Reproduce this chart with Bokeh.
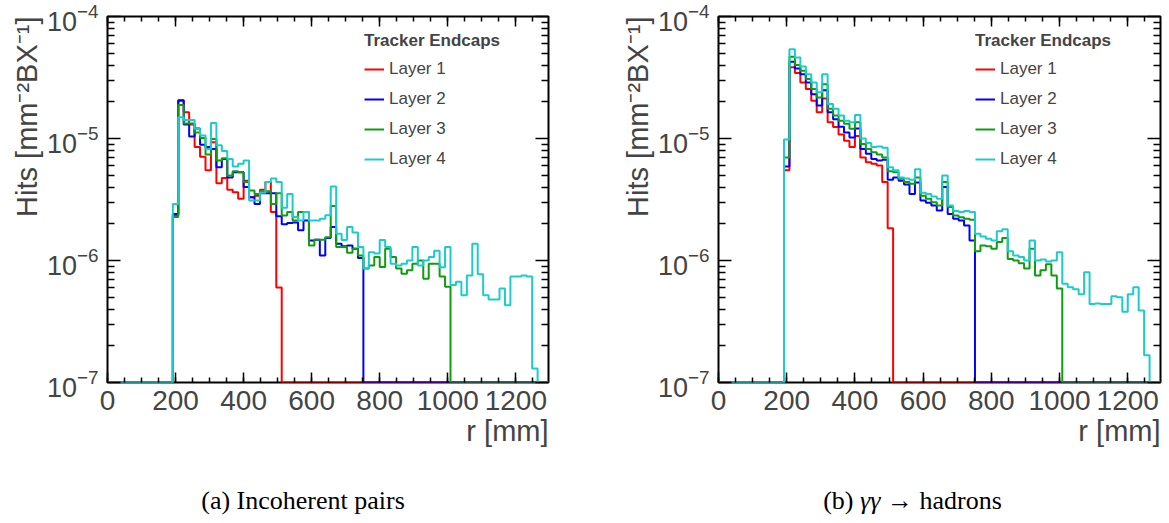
import numpy as np
from bokeh.plotting import figure
from bokeh.models import (Range1d, LinearAxis, LogAxis, FixedTicker, CustomJSTickFormatter,
                          Legend, LegendItem, Div, Spacer, AllLabels, Title)
from bokeh.layouts import row, column
from bokeh.embed import file_html
from bokeh.resources import INLINE

# ---------------- data ----------------
BIN_WIDTH = 16          # mm
N_BINS = 81             # 0 .. 1296 mm
FIRST_BIN = 12          # first non-empty bin (192 mm)
R_MAX = 1296
Y_MIN, Y_MAX = 1e-7, 1e-4

x_ticks = [0, 200, 400, 600, 800, 1000, 1200]
y_ticks = [1e-7, 1e-6, 1e-5, 1e-4]

layer_names = ["Layer 1", "Layer 2", "Layer 3", "Layer 4"]
layer_colors = ["#ff0000", "#0000ff", "#0f9d0f", "#1ccccc"]

# (a) Incoherent pairs -- hits per bin, starting at FIRST_BIN
a_layer1 = [2.34e-6, 2.07e-5, 1.64e-5, 1.3e-5, 8.5e-6, 7.1e-6, 5.5e-6, 9.3e-6, 4.3e-6, 4.75e-6,
            3.8e-6, 3.63e-6, 3.2e-6, 4.5e-6, 3.3e-6, 3.4e-6, 3.8e-6, 4.4e-6, 2.5e-6, 6.0e-7]
a_layer2 = [2.4e-6, 2.04e-5, 1.3e-5, 1.04e-5, 1.21e-5, 8.9e-6, 8.5e-6, 8.2e-6, 5.8e-6, 6.8e-6,
            4.8e-6, 5.3e-6, 5.3e-6, 4.0e-6, 3.3e-6, 2.9e-6, 3.56e-6, 3.56e-6, 3.56e-6, 2.3e-6,
            1.98e-6, 2.03e-6, 2.05e-6, 1.77e-6, 2.13e-6, 1.46e-6, 1.48e-6, 1.1e-6, 1.53e-6, 1.88e-6,
            1.37e-6, 1.31e-6, 1.33e-6, 1.25e-6, 1.05e-6]
a_layer3 = [2.27e-6, 1.88e-5, 1.33e-5, 1.33e-5, 1.12e-5, 1.01e-5, 7.4e-6, 9.9e-6, 6.6e-6, 6.9e-6,
            4.97e-6, 5.4e-6, 5.3e-6, 4.4e-6, 3.75e-6, 3.5e-6, 3.7e-6, 3.7e-6, 2.9e-6, 3.56e-6,
            2.34e-6, 2.5e-6, 2.13e-6, 2.5e-6, 2.5e-6, 1.33e-6, 1.48e-6, 1.48e-6, 1.55e-6, 2.8e-6,
            1.29e-6, 1.29e-6, 1.16e-6, 1.25e-6, 1.1e-6, 8.6e-7, 9.1e-7, 1.07e-6, 8.85e-7, 1.25e-6,
            1.07e-6, 8.6e-7, 7.8e-7, 8.3e-7, 9.4e-7, 1.0e-6, 7.1e-7, 9.4e-7, 9.4e-7, 7.4e-7,
            6.1e-7]
a_layer4 = [2.9e-6, 1.49e-5, 1.42e-5, 1.42e-5, 1.2e-5, 1.06e-5, 8.2e-6, 1.34e-5, 8.8e-6, 7.9e-6,
            6.8e-6, 5.9e-6, 6.2e-6, 6.6e-6, 3.1e-6, 3.1e-6, 3.6e-6, 4.4e-6, 4.7e-6, 4.4e-6,
            2.7e-6, 3.5e-6, 2.27e-6, 2.13e-6, 2.5e-6, 2.13e-6, 2.13e-6, 2.2e-6, 2.35e-6, 4.05e-6,
            1.66e-6, 1.47e-6, 1.88e-6, 1.7e-6, 1.29e-6, 8.6e-7, 1.17e-6, 1.14e-6, 1.47e-6, 1.29e-6,
            9.4e-7, 9.1e-7, 9.4e-7, 1.0e-6, 1.29e-6, 9.1e-7, 1.0e-6, 1.07e-6, 1.2e-6, 8.8e-7,
            1.29e-6, 6.3e-7, 6.7e-7, 5.2e-7, 7.55e-7, 1.37e-6, 7.7e-7, 5.2e-7, 4.8e-7, 4.8e-7,
            5.9e-7, 4.3e-7, 7.4e-7, 7.4e-7, 7.55e-7, 7.4e-7, 1.3e-7]

# (b) gamma gamma -> hadrons
b_layer1 = [5.5e-6, 3.83e-5, 3.44e-5, 2.88e-5, 2.54e-5, 2.04e-5, 1.64e-5, 2.13e-5, 1.36e-5, 1.24e-5,
            1.08e-5, 9.6e-6, 8.5e-6, 1.05e-5, 7.0e-6, 6.4e-6, 6.2e-6, 6.0e-6, 4.4e-6, 1.84e-6]
b_layer2 = [5.9e-6, 4.26e-5, 3.75e-5, 3.37e-5, 2.88e-5, 2.31e-5, 1.86e-5, 2.49e-5, 1.64e-5, 1.44e-5,
            1.25e-5, 1.12e-5, 1.02e-5, 1.21e-5, 8.2e-6, 7.5e-6, 6.8e-6, 6.6e-6, 6.7e-6, 4.6e-6,
            4.8e-6, 4.5e-6, 4.2e-6, 3.5e-6, 4.35e-6, 3.1e-6, 2.98e-6, 2.82e-6, 2.57e-6, 4.0e-6,
            2.4e-6, 2.2e-6, 2.13e-6, 1.94e-6, 1.46e-6]
b_layer3 = [7.0e-6, 4.68e-5, 4.0e-5, 3.59e-5, 3.07e-5, 2.54e-5, 2.17e-5, 2.79e-5, 1.75e-5, 1.54e-5,
            1.4e-5, 1.32e-5, 1.2e-5, 1.36e-5, 9.0e-6, 8.2e-6, 7.7e-6, 7.4e-6, 7.0e-6, 5.4e-6,
            5.3e-6, 4.67e-6, 4.4e-6, 4.25e-6, 4.8e-6, 3.4e-6, 3.2e-6, 3.0e-6, 2.82e-6, 4.4e-6,
            2.74e-6, 2.34e-6, 2.26e-6, 2.2e-6, 2.16e-6, 1.19e-6, 1.33e-6, 1.31e-6, 1.25e-6, 1.42e-6,
            1.53e-6, 1.03e-6, 1.0e-6, 9.5e-7, 8.6e-7, 1.25e-6, 7.55e-7, 8.3e-7, 9.3e-7, 7.55e-7,
            5.9e-7]
b_layer4 = [9.8e-6, 5.4e-5, 4.62e-5, 3.9e-5, 3.37e-5, 2.88e-5, 2.39e-5, 3.37e-5, 1.92e-5, 1.75e-5,
            1.54e-5, 1.4e-5, 1.36e-5, 1.56e-5, 1.0e-5, 9.2e-6, 8.5e-6, 8.6e-6, 8.4e-6, 5.8e-6,
            5.5e-6, 4.8e-6, 4.7e-6, 4.6e-6, 5.6e-6, 3.6e-6, 3.5e-6, 3.34e-6, 3.2e-6, 4.97e-6,
            2.82e-6, 2.54e-6, 2.5e-6, 2.54e-6, 2.5e-6, 1.66e-6, 1.57e-6, 1.51e-6, 1.46e-6, 1.74e-6,
            1.8e-6, 1.19e-6, 1.1e-6, 1.07e-6, 1.0e-6, 1.46e-6, 1.0e-6, 1.02e-6, 9.8e-7, 1.0e-6,
            1.17e-6, 6.45e-7, 6.05e-7, 5.8e-7, 5.3e-7, 8.0e-7, 4.4e-7, 4.45e-7, 4.4e-7, 4.4e-7,
            5.1e-7, 5.0e-7, 3.8e-7, 5.3e-7, 6.05e-7, 3.9e-7, 1.67e-7]

caption_a = "(a) Incoherent pairs"
caption_b = "(b) <i>\u03b3\u03b3</i> \u2192 hadrons"
y_title = "Hits [mm\u207b\u00b2BX\u207b\u00b9]"
x_title = "r [mm]"
legend_title = "Tracker Endcaps"


def full_bins(vals):
    return [0.0] * FIRST_BIN + list(vals) + [0.0] * (N_BINS - FIRST_BIN - len(vals))


FONT = "Liberation Sans"
FIG_H = 470


def style_ticks(ax, major, minor):
    ax.major_tick_in = major
    ax.major_tick_out = 0
    ax.minor_tick_in = minor
    ax.minor_tick_out = 0
    ax.major_tick_line_width = 1.5
    ax.minor_tick_line_width = 1.5
    ax.major_tick_line_color = "black"
    ax.minor_tick_line_color = "black"
    ax.axis_line_color = None


def build(series, width, left_border, right_border):
    p = figure(width=width, height=FIG_H, x_range=Range1d(0, R_MAX), y_range=Range1d(Y_MIN, Y_MAX),
               y_axis_type="log", output_backend="svg", toolbar_location=None,
               min_border_left=left_border, min_border_right=right_border,
               min_border_top=16, min_border_bottom=FIG_H - 382)
    p.grid.visible = False
    p.outline_line_color = "black"
    p.outline_line_width = 2
    p.background_fill_color = "white"
    p.border_fill_color = "white"

    xt = FixedTicker(ticks=x_ticks, minor_ticks=list(range(0, R_MAX + 1, 50)))
    yt = FixedTicker(ticks=y_ticks,
                     minor_ticks=[m * t for t in y_ticks[:-1] for m in range(2, 10)])
    blank = CustomJSTickFormatter(code="return ''")

    xa = p.xaxis[0]
    xa.ticker = xt
    style_ticks(xa, 10, 5)
    xa.major_label_policy = AllLabels()
    xa.major_label_text_font = FONT
    xa.major_label_text_font_size = "28px"
    xa.major_label_standoff = 8

    ya = p.yaxis[0]
    ya.ticker = yt
    style_ticks(ya, 13, 7)
    ya.major_label_policy = AllLabels()
    ya.major_label_text_font = FONT
    ya.major_label_text_font_size = "27px"
    ya.major_label_standoff = 9

    top = LinearAxis(ticker=xt, formatter=blank, major_label_standoff=0)
    style_ticks(top, 10, 5)
    p.add_layout(top, "above")
    right = LogAxis(ticker=yt, formatter=blank, major_label_standoff=0)
    style_ticks(right, 13, 7)
    p.add_layout(right, "right")

    # axis titles, aligned to the far ends of the axes
    p.add_layout(Title(text=x_title, align="right", text_font=FONT, text_font_size="29px",
                       text_font_style="normal", standoff=0), "below")
    p.add_layout(Title(text=y_title, align="right", text_font=FONT, text_font_size="29px",
                       text_font_style="normal", standoff=2), "left")

    edges = np.arange(N_BINS + 1) * BIN_WIDTH
    items = []
    for name, color, vals in zip(layer_names, layer_colors, series):
        full = full_bins(vals)
        y = np.maximum(np.array(full + [full[-1]]), Y_MIN)
        r = p.step(edges, y, mode="after", line_color=color, line_width=2)
        items.append(LegendItem(label=name, renderers=[r]))

    legend = Legend(items=items, title=legend_title, location=(257, 213),
                    title_text_font=FONT, title_text_font_style="bold", title_text_font_size="17px",
                    title_standoff=8, label_text_font=FONT, label_text_font_size="17px",
                    glyph_width=20, glyph_height=20, label_height=20, label_standoff=5,
                    spacing=10, padding=0, margin=0, border_line_color=None,
                    background_fill_alpha=0)
    p.add_layout(legend)
    return p


pa = build([a_layer1, a_layer2, a_layer3, a_layer4], 600, 107, 52)
pb = build([b_layer1, b_layer2, b_layer3, b_layer4], 569, 118, 9)

cap_style = {"font-family": "'Liberation Serif', 'Times New Roman', serif", "font-size": "26px",
             "text-align": "center", "line-height": "52px", "color": "black"}
div_a = Div(text=caption_a, width=596, height=523 - FIG_H, styles=cap_style)
div_b = Div(text=caption_b, width=513, height=523 - FIG_H, styles=cap_style)

layout = column(row(pa, pb), row(div_a, Spacer(width=45, height=523 - FIG_H), div_b))
open("out.html", "w").write(file_html(layout, INLINE))
